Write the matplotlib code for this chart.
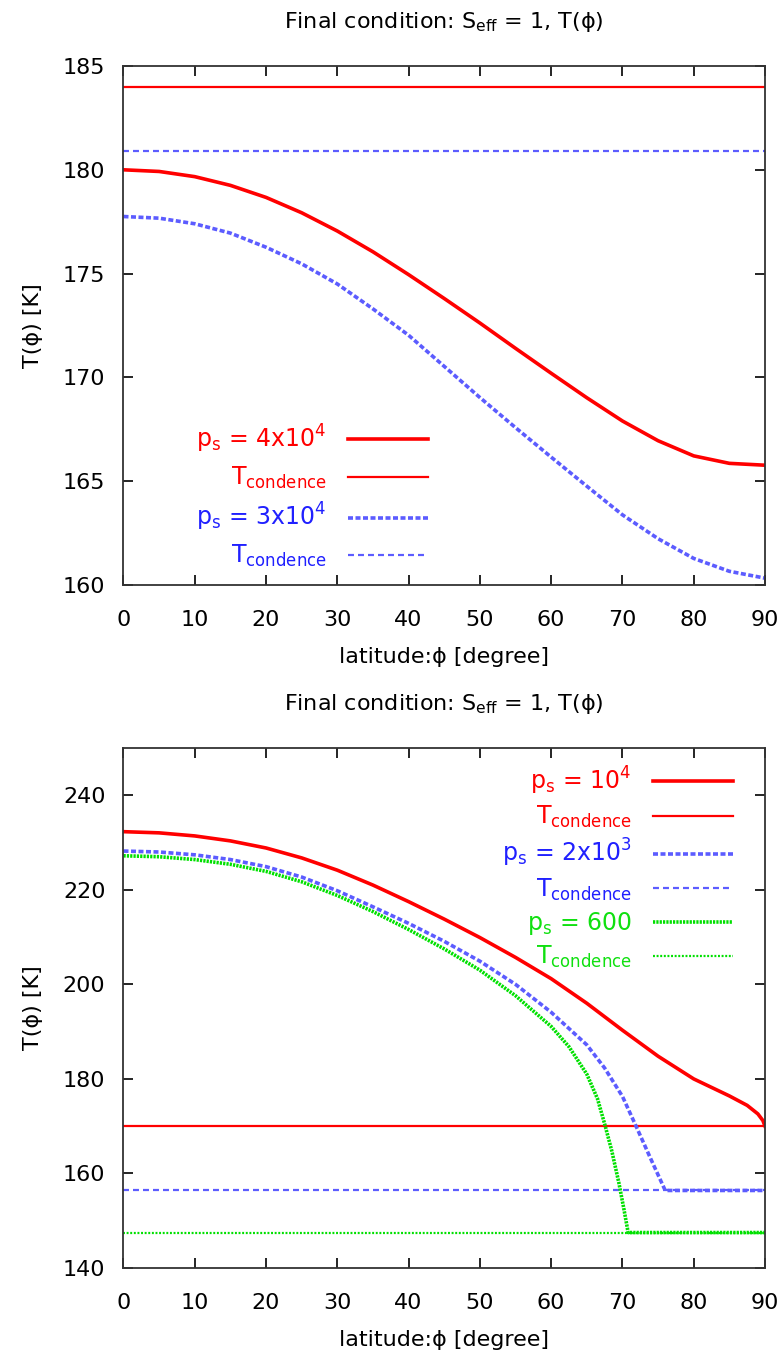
import matplotlib
matplotlib.use("Agg")
import matplotlib.pyplot as plt

plt.rcParams['font.family'] = ['DejaVu Sans']
plt.rcParams['mathtext.fontset'] = 'dejavusans'
plt.rcParams['lines.scale_dashes'] = False
plt.rcParams['lines.solid_joinstyle'] = 'round'
plt.rcParams['lines.dash_joinstyle'] = 'round'

# ---------------- data: top panel ----------------
lat_top = [0, 5, 10, 15, 20, 25, 30, 35, 40, 45, 50, 55, 60, 65, 70, 75, 80, 85, 90]
T_top_4e4 = [180.0, 179.92, 179.67, 179.25, 178.67, 177.93, 177.05, 176.05, 174.95, 173.8,
             172.62, 171.4, 170.2, 169.02, 167.9, 166.95, 166.22, 165.86, 165.77]
T_top_3e4 = [177.75, 177.67, 177.4, 176.95, 176.27, 175.47, 174.5, 173.3, 172.03, 170.53,
             169.03, 167.58, 166.16, 164.76, 163.38, 162.23, 161.28, 160.66, 160.33]
Tc_top_4e4 = 184.0
Tc_top_3e4 = 180.92

# ---------------- data: bottom panel ----------------
lat_1e4 = [0, 5, 10, 15, 20, 25, 30, 35, 40, 45, 50, 55, 60, 65, 70, 75, 80, 85, 87.5, 89, 89.7, 90]
T_1e4 = [232.3, 232.05, 231.4, 230.35, 228.85, 226.75, 224.15, 221.0, 217.5, 213.8, 209.9,
         205.7, 201.2, 196.0, 190.3, 184.8, 180.0, 176.4, 174.4, 172.6, 171.2, 170.0]
lat_2e3 = [0, 5, 10, 15, 20, 25, 30, 35, 40, 45, 50, 55, 60, 65, 67.5, 70, 72, 74, 76, 80, 90]
T_2e3 = [228.2, 228.0, 227.4, 226.4, 224.9, 222.7, 219.8, 216.4, 212.9, 209.1, 204.9,
         200.0, 194.1, 187.2, 182.3, 176.3, 169.7, 163.0, 156.4, 156.4, 156.4]
lat_600 = [0, 5, 10, 15, 20, 25, 30, 35, 40, 45, 50, 55, 60, 62.5, 65, 66.5, 67.5, 68.5,
           69.5, 70.2, 70.8, 80, 90]
T_600 = [227.2, 227.0, 226.4, 225.4, 223.9, 221.7, 218.8, 215.4, 211.6, 207.5, 203.0,
         197.6, 191.1, 186.8, 181.0, 175.8, 170.5, 164.8, 158.0, 152.5, 147.5, 147.5, 147.5]
Tc_1e4 = 170.0
Tc_2e3 = 156.4
Tc_600 = 147.5

title_txt = r'Final condition: S$_{\rm eff}$ = 1, T(ϕ)'
xlab = 'latitude:ϕ [degree]'
ylab = 'T(ϕ) [K]'

RED = '#ff0000'
BLUE_L = '#5c5cff'
BLUE_T = '#2020ff'
GREEN_L = '#00e000'
GREEN_T = '#10e010'

W, H = 783, 1353
fig = plt.figure(figsize=(W / 100, H / 100), dpi=100)
left = 123.5 / W
width = (765 - 123.5) / W
ax1 = fig.add_axes([left, 1 - 585 / H, width, (585 - 66) / H])
ax2 = fig.add_axes([left, 1 - 1268 / H, width, (1268 - 748) / H])

FS = 16
LFS = 17
thick = 2.6
thin = 1.6
dash_thick = (0, (3.6, 1.8))
dash_thin = (0, (4.3, 2.9))
dot_thick = (0, (1.6, 0.8))
dot_thin = (0, (1.4, 1.2))

# top panel
ax1.plot(lat_top, T_top_4e4, color=RED, lw=thick, label=r'p$_{\rm s}$ = 4x10$^4$')
ax1.plot([0, 90], [Tc_top_4e4, Tc_top_4e4], color=RED, lw=thin, label=r'T$_{\rm condence}$')
ax1.plot(lat_top, T_top_3e4, color=BLUE_L, lw=thick, ls=dash_thick, label=r'p$_{\rm s}$ = 3x10$^4$')
ax1.plot([0, 90], [Tc_top_3e4, Tc_top_3e4], color=BLUE_L, lw=thin, ls=dash_thin, label=r'T$_{\rm condence}$')
ax1.set_ylim(160, 185)
ax1.set_yticks([160, 165, 170, 175, 180, 185])
leg1 = ax1.legend(loc='lower right', bbox_to_anchor=(0.475, 0.03), frameon=False,
                  markerfirst=False, fontsize=LFS, handlelength=3.4, handletextpad=0.9,
                  labelspacing=0.42, borderpad=0, borderaxespad=0)
for t, c in zip(leg1.get_texts(), [RED, RED, BLUE_T, BLUE_T]):
    t.set_color(c)

# bottom panel
ax2.plot(lat_1e4, T_1e4, color=RED, lw=thick, label=r'p$_{\rm s}$ = 10$^4$')
ax2.plot([0, 90], [Tc_1e4, Tc_1e4], color=RED, lw=thin, label=r'T$_{\rm condence}$')
ax2.plot(lat_2e3, T_2e3, color=BLUE_L, lw=thick, ls=dash_thick, label=r'p$_{\rm s}$ = 2x10$^3$')
ax2.plot([0, 90], [Tc_2e3, Tc_2e3], color=BLUE_L, lw=thin, ls=dash_thin, label=r'T$_{\rm condence}$')
ax2.plot(lat_600, T_600, color=GREEN_L, lw=thick, ls=dot_thick, label=r'p$_{\rm s}$ = 600')
ax2.plot([0, 90], [Tc_600, Tc_600], color=GREEN_L, lw=thin, ls=dot_thin, label=r'T$_{\rm condence}$')
ax2.set_ylim(140, 250)
ax2.set_yticks([140, 160, 180, 200, 220, 240])
leg2 = ax2.legend(loc='upper right', bbox_to_anchor=(0.950, 0.968), frameon=False,
                  markerfirst=False, fontsize=LFS, handlelength=3.4, handletextpad=0.9,
                  labelspacing=0.30, borderpad=0, borderaxespad=0)
for t, c in zip(leg2.get_texts(), [RED, RED, BLUE_T, BLUE_T, GREEN_T, GREEN_T]):
    t.set_color(c)

for ax in (ax1, ax2):
    ax.set_xlim(0, 90)
    ax.set_xticks(range(0, 91, 10))
    ax.tick_params(direction='in', length=7, width=1.2, top=True, right=True,
                   labelsize=FS, colors='black')
    ax.tick_params(axis='x', pad=18)
    ax.tick_params(axis='y', pad=13)
    for s in ax.spines.values():
        s.set_linewidth(1.3)
        s.set_color('#333333')
    ax.set_title(title_txt, fontsize=FS, pad=27)
    ax.set_xlabel(xlab, fontsize=FS, labelpad=12)
    ax.set_ylabel(ylab, fontsize=FS, labelpad=14)

fig.savefig('out.png', dpi=100)
